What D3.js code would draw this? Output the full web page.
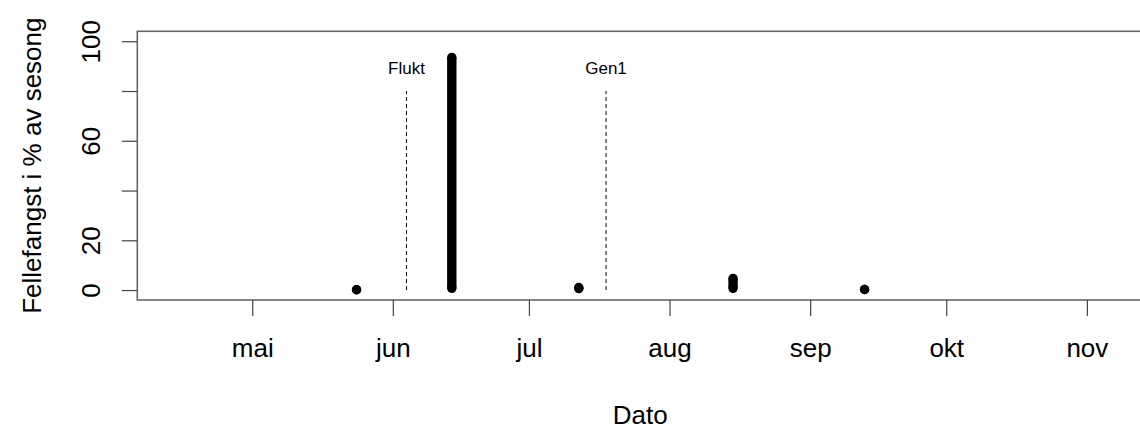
<!DOCTYPE html>
<html>
<head>
<meta charset="utf-8">
<script src="https://cdn.jsdelivr.net/npm/d3@7"></script>
<style>
  body { margin: 0; background: #fff; }
  svg { display: block; font-family: "Liberation Sans", Arial, sans-serif; }
</style>
</head>
<body>
<div id="chart"></div>
<script>
// catch dates (all in one season) and the spread of trap catch (% of season) on each date
var catchDates = ["2020-05-24", "2020-06-14", "2020-07-12", "2020-08-15", "2020-09-13"];
var catchMin = [0.1, 0.7, 0.6, 0.7, 0.2];
var catchMax = [0.1, 93.5, 1.0, 4.7, 0.2];

// dashed markers
var markerDates = ["2020-06-04", "2020-07-18"];
var markerLabels = ["Flukt", "Gen1"];
var markerTop = 80;

// axis ticks
var monthDates = ["2020-05-01", "2020-06-01", "2020-07-01", "2020-08-01", "2020-09-01", "2020-10-01", "2020-11-01"];
var monthLabels = ["mai", "jun", "jul", "aug", "sep", "okt", "nov"];
var yTicks = [0, 20, 40, 60, 80, 100];
var yTickLabels = ["0", "20", "", "60", "", "100"];

var width = 1140, height = 432;
var box = {left: 137.3, top: 31.3, right: 1143, bottom: 300};

var parse = d3.utcParse("%Y-%m-%d");

var svg = d3.select("#chart").append("svg")
    .attr("width", width)
    .attr("height", height);

var x = d3.scaleUtc()
    .domain([Date.UTC(2020, 3, 5, 16), Date.UTC(2020, 10, 13, 9)])
    .range([box.left, box.right]);

var y = d3.scaleLinear()
    .domain([-4, 104])
    .range([box.bottom, box.top]);

// plot frame
svg.append("rect")
    .attr("x", box.left).attr("y", box.top)
    .attr("width", box.right - box.left)
    .attr("height", box.bottom - box.top)
    .attr("fill", "none")
    .attr("stroke", "#666")
    .attr("stroke-width", 1.6);

// x axis
var xAxis = svg.append("g")
    .attr("transform", "translate(0," + box.bottom + ")")
    .call(d3.axisBottom(x)
        .tickValues(monthDates.map(parse))
        .tickFormat(function (d, i) { return monthLabels[i]; })
        .tickSize(16));
xAxis.select(".domain").remove();
xAxis.selectAll("line").attr("stroke", "#444").attr("stroke-width", 1.2);
xAxis.selectAll("text")
    .attr("y", 56.5)
    .attr("dy", null)
    .attr("font-size", "26px")
    .attr("font-family", "Liberation Sans, Arial, sans-serif")
    .attr("fill", "#000");

// y axis, labels turned like R's default
var yAxis = svg.append("g")
    .attr("transform", "translate(" + box.left + ",0)")
    .call(d3.axisLeft(y)
        .tickValues(yTicks)
        .tickFormat(function (d, i) { return yTickLabels[i]; })
        .tickSize(15.5));
yAxis.select(".domain").remove();
yAxis.selectAll("line").attr("stroke", "#444").attr("stroke-width", 1.2);
yAxis.selectAll("text")
    .attr("x", null).attr("dy", null)
    .attr("transform", "translate(-37,0) rotate(-90)")
    .attr("text-anchor", "middle")
    .attr("font-size", "26px")
    .attr("font-family", "Liberation Sans, Arial, sans-serif")
    .attr("fill", "#000");

// axis titles
svg.append("text")
    .attr("x", (box.left + box.right) / 2)
    .attr("y", 423.5)
    .attr("text-anchor", "middle")
    .attr("font-size", "26px")
    .text("Dato");

svg.append("text")
    .attr("transform", "translate(41," + (box.top + box.bottom) / 2 + ") rotate(-90)")
    .attr("text-anchor", "middle")
    .attr("font-size", "26px")
    .text("Fellefangst i % av sesong");

// dashed markers + labels
var markers = markerDates.map(function (d, i) { return {date: parse(d), label: markerLabels[i]}; });
svg.selectAll(".marker").data(markers).enter().append("line")
    .attr("class", "marker")
    .attr("x1", function (d) { return x(d.date); })
    .attr("x2", function (d) { return x(d.date); })
    .attr("y1", y(0))
    .attr("y2", y(markerTop))
    .attr("stroke", "#000")
    .attr("stroke-width", 1)
    .attr("stroke-dasharray", "4,3");
svg.selectAll(".mlabel").data(markers).enter().append("text")
    .attr("class", "mlabel")
    .attr("x", function (d) { return x(d.date); })
    .attr("y", y(87))
    .attr("text-anchor", "middle")
    .attr("font-size", "17px")
    .text(function (d) { return d.label; });

// the catch points, stacked on each date
var pts = catchDates.map(function (d, i) { return {date: parse(d), lo: catchMin[i], hi: catchMax[i]}; });
var r = 4.7;
svg.selectAll(".stack").data(pts).enter().append("line")
    .attr("class", "stack")
    .attr("x1", function (d) { return x(d.date); })
    .attr("x2", function (d) { return x(d.date); })
    .attr("y1", function (d) { return y(d.lo); })
    .attr("y2", function (d) { return y(d.hi); })
    .attr("stroke", "#000")
    .attr("stroke-width", r * 2);
svg.selectAll(".lo").data(pts).enter().append("circle")
    .attr("cx", function (d) { return x(d.date); })
    .attr("cy", function (d) { return y(d.lo); })
    .attr("r", r);
svg.selectAll(".hi").data(pts).enter().append("circle")
    .attr("cx", function (d) { return x(d.date); })
    .attr("cy", function (d) { return y(d.hi); })
    .attr("r", r);
</script>
</body>
</html>
